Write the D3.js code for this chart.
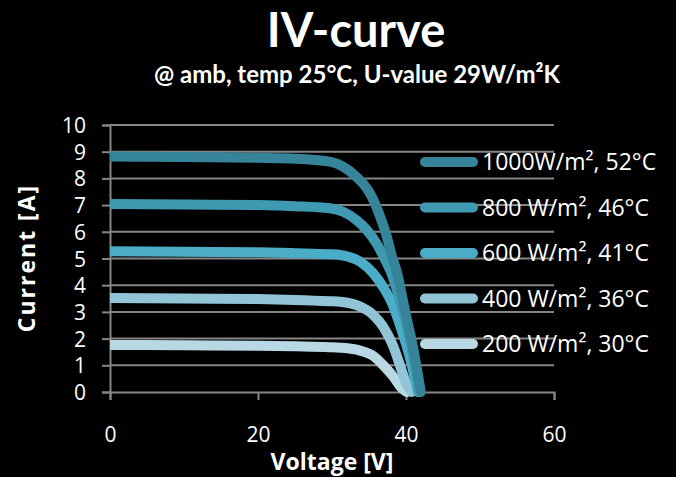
<!DOCTYPE html>
<html>
<head>
<meta charset="utf-8">
<script src="https://cdn.jsdelivr.net/npm/d3@7"></script>
<style>
  html, body { margin: 0; padding: 0; background: #000; }
  svg { display: block; }
</style>
</head>
<body>
<svg id="chart" width="676" height="477"></svg>
<script>
  var seriesNames = ['1000W/m\u00b2, 52\u00b0C', '800 W/m\u00b2, 46\u00b0C', '600 W/m\u00b2, 41\u00b0C', '400 W/m\u00b2, 36\u00b0C', '200 W/m\u00b2, 30\u00b0C'];
  var seriesColors = ['#35849a', '#3f99b1', '#4aacc6', '#90c4d6', '#b8d8e3'];

  // voltage [V], per curve
  var volts1000 = [0, 10, 20, 25, 29.7, 31.5, 33.3, 34.7, 35.6, 36.5, 37.4, 38.1, 38.7, 39.9, 41, 42];
  var volts800  = [0, 10, 20, 25, 29.7, 31.5, 33.3, 34.7, 36.0, 37.2, 38.1, 39.0, 40.0, 41.0, 41.8];
  var volts600  = [0, 10, 20, 25, 29.7, 31.1, 33.8, 35.6, 36.9, 38.3, 39.4, 40.5, 41.6];
  var volts400  = [0, 10, 20, 25, 29.7, 31.1, 33.8, 35.6, 36.9, 38.3, 39.4, 40.0, 40.8];
  var volts200  = [0, 10, 20, 25, 29.7, 31.1, 33.8, 35.6, 36.9, 38.3, 39.4, 40.1];

  // current [A] at those voltages
  var amps1000 = [8.82, 8.8, 8.77, 8.74, 8.63, 8.44, 8.06, 7.63, 7.19, 6.57, 5.82, 5.07, 4.57, 3.0, 1.6, 0];
  var amps800  = [7.04, 7.02, 7.0, 6.96, 6.88, 6.75, 6.44, 6.07, 5.57, 4.94, 4.4, 3.6, 2.6, 1.3, 0];
  var amps600  = [5.27, 5.25, 5.23, 5.2, 5.16, 5.13, 4.88, 4.44, 3.94, 3.2, 2.32, 1.32, 0];
  var amps400  = [3.52, 3.5, 3.48, 3.45, 3.4, 3.38, 3.2, 2.88, 2.45, 1.7, 0.82, 0.35, 0];
  var amps200  = [1.76, 1.75, 1.73, 1.71, 1.68, 1.66, 1.55, 1.35, 1.01, 0.57, 0.15, 0];

  var xTicks = [0, 20, 40, 60];
  var yTicks = [0, 1, 2, 3, 4, 5, 6, 7, 8, 9, 10];

  (function () {
    'use strict';

    var svg = d3.select('#chart'),
        margin = {top: 125, right: 122, bottom: 85, left: 110},
        width = +svg.attr('width') - margin.left - margin.right,
        height = +svg.attr('height') - margin.top - margin.bottom;

    var voltSets = [volts1000, volts800, volts600, volts400, volts200];
    var ampSets = [amps1000, amps800, amps600, amps400, amps200];

    var series = seriesNames.map(function (name, i) {
      return {
        name: name,
        color: seriesColors[i],
        values: voltSets[i].map(function (v, j) { return {v: v, a: ampSets[i][j]}; })
      };
    });

    var x = d3.scaleLinear().domain([0, 60]).range([0, width]);
    var y = d3.scaleLinear().domain([0, 10]).range([height, 0]);

    // titles
    svg.append('text')
        .attr('x', 356).attr('y', 47)
        .attr('text-anchor', 'middle')
        .style('font', 'bold 47px Lato, sans-serif')
        .style('fill', '#fff')
        .text('IV-curve');

    svg.append('text')
        .attr('x', 357).attr('y', 83)
        .attr('text-anchor', 'middle')
        .style('font', 'bold 24px Lato, sans-serif')
        .style('fill', '#fff')
        .text('@ amb, temp 25\u00b0C, U-value 29W/m\u00b2K');

    var g = svg.append('g')
        .attr('transform', 'translate(' + margin.left + ',' + margin.top + ')');

    // horizontal gridlines
    g.append('g')
        .selectAll('line')
        .data(yTicks.slice(1))
      .enter().append('line')
        .attr('x1', 0).attr('x2', width)
        .attr('y1', function (d) { return y(d); })
        .attr('y2', function (d) { return y(d); })
        .style('stroke', '#868686')
        .style('stroke-width', 2);

    // y axis
    var yAxis = g.append('g')
        .attr('class', 'y axis')
        .call(d3.axisLeft(y).tickValues(yTicks).tickSize(8).tickPadding(16));

    // x axis
    var xAxis = g.append('g')
        .attr('class', 'x axis')
        .attr('transform', 'translate(0,' + height + ')')
        .call(d3.axisBottom(x).tickValues(xTicks).tickSize(8).tickPadding(27));

    [xAxis, yAxis].forEach(function (ax) {
      ax.select('.domain').style('stroke', '#868686').style('stroke-width', 2);
      ax.selectAll('.tick line').style('stroke', '#868686').style('stroke-width', 2);
      ax.selectAll('.tick text')
          .style('font-family', '"Open Sans", sans-serif')
          .style('font-size', '21px')
          .style('fill', '#fff');
    });
    yAxis.selectAll('.tick text').attr('dy', '0.36em');
    xAxis.selectAll('.tick text').attr('dy', '0.71em');

    // axis titles
    svg.append('text')
        .attr('x', 332).attr('y', 470)
        .attr('text-anchor', 'middle')
        .style('font', 'bold 23px "Open Sans", sans-serif')
        .style('fill', '#fff')
        .text('Voltage [V]');

    svg.append('text')
        .attr('transform', 'translate(35,258) rotate(-90)')
        .attr('text-anchor', 'middle')
        .style('font', 'bold 23px "Open Sans", sans-serif')
        .style('letter-spacing', '2px')
        .style('fill', '#fff')
        .text('Current [A]');

    // curves, clipped at the y axis so the left end is flat
    g.append('clipPath').attr('id', 'plot-clip')
      .append('rect')
        .attr('x', 0).attr('y', -20)
        .attr('width', width).attr('height', height + 40);

    var line = d3.line()
        .x(function (d) { return x(d.v); })
        .y(function (d) { return y(d.a); })
        .curve(d3.curveMonotoneX);

    g.append('g')
        .attr('clip-path', 'url(#plot-clip)')
        .selectAll('path')
        .data(series.slice().reverse())
      .enter().append('path')
        .attr('d', function (d) { return line(d.values); })
        .style('fill', 'none')
        .style('stroke', function (d) { return d.color; })
        .style('stroke-width', 10)
        .style('stroke-linecap', 'round')
        .style('stroke-linejoin', 'round');

    // legend
    var legend = svg.append('g')
        .selectAll('g')
        .data(series)
      .enter().append('g')
        .attr('transform', function (d, i) { return 'translate(420,' + (162 + i * 45.5) + ')'; });

    legend.append('line')
        .attr('x1', 5).attr('x2', 53)
        .style('stroke', function (d) { return d.color; })
        .style('stroke-width', 10)
        .style('stroke-linecap', 'round');

    legend.append('text')
        .attr('x', 62).attr('y', 8)
        .style('font', '23px "Open Sans", sans-serif')
        .style('fill', '#fff')
        .text(function (d) { return d.name; });
  })();
</script>
</body>
</html>
